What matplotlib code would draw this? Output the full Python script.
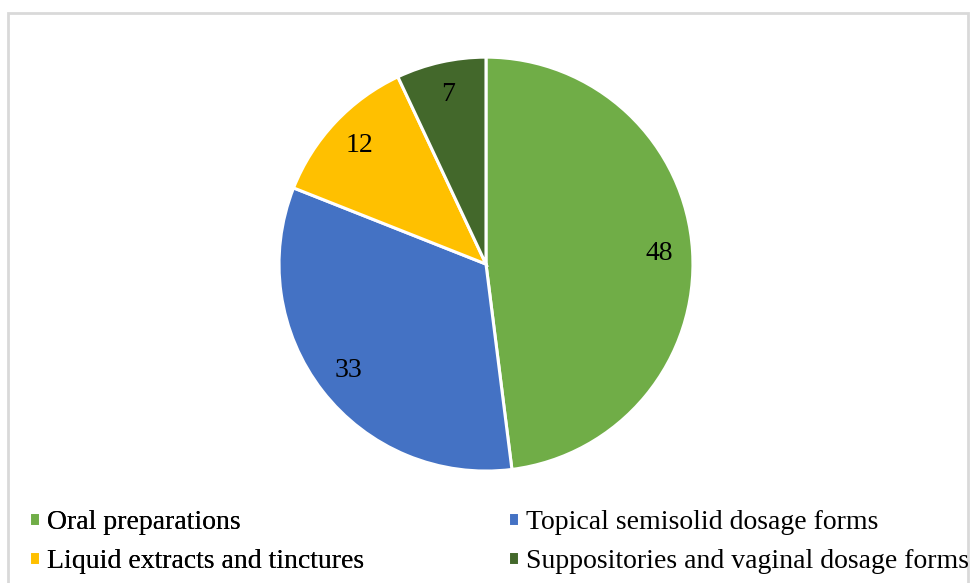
import matplotlib
matplotlib.use('Agg')
import matplotlib.pyplot as plt
from matplotlib.patches import Rectangle

labels = ['Oral preparations', 'Topical semisolid dosage forms',
          'Liquid extracts and tinctures', 'Suppositories and vaginal dosage forms']
values = [48, 33, 12, 7]
colors = ['#70AD47', '#4472C4', '#FFC000', '#43682B']

plt.rcParams['font.family'] = ['Liberation Serif', 'DejaVu Serif']

fig = plt.figure(figsize=(9.71, 5.83), dpi=100)
ax = fig.add_axes([0.2873, 0.192, 0.4264, 0.710])

wedges, texts, autotexts = ax.pie(values, colors=colors, startangle=90, counterclock=False,
                                  autopct=lambda p: '%d' % round(p * sum(values) / 100.0),
                                  pctdistance=0.84,
                                  wedgeprops=dict(edgecolor='white', linewidth=2.2))
for t in autotexts:
    t.set_fontsize(20)
    t.set_color('black')
ax.set_xlim(-1, 1)
ax.set_ylim(-1, 1)
ax.set_aspect('equal')

# legend: two columns, placed separately
leg_kw = dict(loc='center left', frameon=False, fontsize=20, handlelength=0.4,
              handleheight=0.4, handletextpad=0.25, labelspacing=0.5,
              borderpad=0, borderaxespad=0)
leg1 = fig.legend([wedges[0], wedges[2]], [labels[0], labels[2]],
                  bbox_to_anchor=(0.030, 0.071), **leg_kw)
fig.add_artist(leg1)
fig.legend([wedges[1], wedges[3]], [labels[1], labels[3]],
           bbox_to_anchor=(0.523, 0.071), **leg_kw)

# outer frame
fig.patches.append(Rectangle((8 / 971, -0.01), 960 / 971, (583 - 13) / 583 + 0.01,
                             transform=fig.transFigure, fill=False,
                             edgecolor='#D9D9D9', linewidth=2))

fig.savefig('out.png', dpi=100)
